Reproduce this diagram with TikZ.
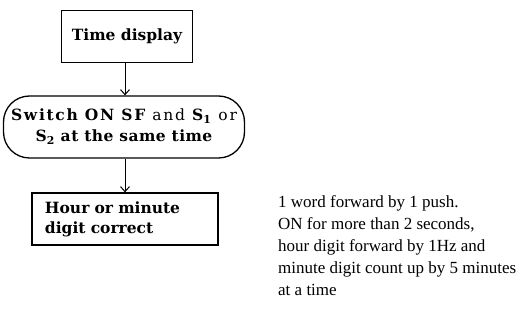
\documentclass[tikz,border=0pt]{standalone}
\usepackage{fontspec}
\setmainfont{Liberation Serif}
\newfontfamily\boxfont{DejaVu Serif}
\usetikzlibrary{arrows.meta,shapes.misc}
\begin{document}
\begin{tikzpicture}[x=1pt,y=-1pt,
  box/.style={draw,line width=1.3pt,inner sep=0pt,font=\boxfont\fontsize{15.5}{21}\selectfont\bfseries},
  flow/.style={line width=1pt,-{Straight Barb[length=5pt,width=9pt,line width=1pt]}},
  note/.style={font=\fontsize{17}{22}\selectfont,align=left,inner sep=0pt,anchor=north west}]
\useasboundingbox (0,0) rectangle (520,320);
% process boxes
\node[box,minimum width=131pt,minimum height=52pt] (disp) at (127,36.5) {Time display};
\node[box,rounded corners=26pt,minimum width=241pt,minimum height=62pt,align=center]
  (sw) at (124,127) {{\addfontfeature{LetterSpace=11}Switch ON SF {\mdseries and} S\textsubscript{1} {\mdseries or}}\\[0pt]
  {\addfontfeature{LetterSpace=3}S\textsubscript{2} at the same time}};
\node[box,minimum width=186pt,minimum height=52pt,align=left,text width=160pt]
  (corr) at (125,219) {Hour or minute\\[-1pt]digit correct};
% connectors
\draw[flow] (disp.south -| 125,0) -- (sw.north -| 125,0);
\draw[flow] (sw.south -| 125,0) -- (corr.north -| 125,0);
% explanation
\node[note] (expl) at (278,195) {1 word forward by 1 push.\\
ON for more than 2 seconds,\\
hour digit forward by 1Hz and\\
minute digit count up by 5 minutes\\
at a time};
\end{tikzpicture}
\end{document}
